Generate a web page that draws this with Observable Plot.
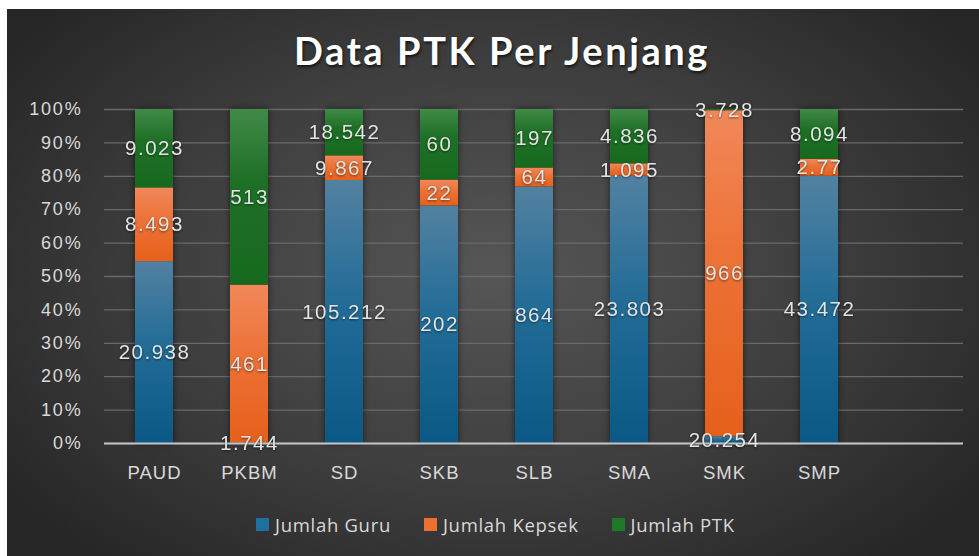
<!DOCTYPE html>
<html><head><meta charset="utf-8">
<script src="https://cdn.jsdelivr.net/npm/d3@7"></script>
<script src="https://cdn.jsdelivr.net/npm/@observablehq/plot@0.6"></script>
<style>
html,body{margin:0;padding:0;background:#fff;}
#wrap{position:relative;width:979px;height:556px;overflow:hidden;background:#fff;}
#bg{position:absolute;left:7px;top:9px;width:972px;height:547px;
  background:radial-gradient(ellipse 62% 70% at 50% 48%, #565656 0%, #3e3e3e 55%, #262626 100%);}
#title{position:absolute;left:502px;top:27px;transform:translateX(-50%);white-space:nowrap;
  font-family:"Lato",sans-serif;font-weight:700;font-size:38px;letter-spacing:2.6px;color:#fff;
  text-shadow:1px 2px 3px rgba(0,0,0,0.65);}
#chart{position:absolute;left:0;top:0;}
#chart svg text{font-family:"Liberation Sans",Arial,sans-serif;}
#chart .tick-y text{letter-spacing:1.8px;}
#chart .tick-x text{letter-spacing:1px;}
#chart .labels text{letter-spacing:1.5px;}
#chart .labels{filter:drop-shadow(0 1px 1px rgba(0,0,0,0.5));}
#chart .bars{filter:drop-shadow(0 0 3px rgba(0,0,0,0.55));}
#legend{position:absolute;top:512px;left:256px;display:flex;align-items:center;
  font-family:"Open Sans",sans-serif;font-size:18.5px;letter-spacing:0.7px;color:#d9d9d9;white-space:nowrap;}
#legend .item{display:flex;align-items:center;margin-right:33px;}
#legend .sw{width:13px;height:13px;margin-right:6px;}
</style>
</head><body>
<div id="wrap">
  <div id="bg"></div>
  <div id="title">Data PTK Per Jenjang</div>
  <div id="chart"></div>
  <div id="legend"></div>
</div>
<script>
// ---- data ----
const categories = ["PAUD", "PKBM", "SD", "SKB", "SLB", "SMA", "SMK", "SMP"];
const seriesNames = ["Jumlah Guru", "Jumlah Kepsek", "Jumlah PTK"];
const guru   = [20.938, 1.744, 105.212, 202, 864, 23.803, 20.254, 43.472];
const kepsek = [8.493, 461, 9.867, 22, 64, 1.095, 966, 2.77];
const ptk    = [9.023, 513, 18.542, 60, 197, 4.836, 3.728, 8.094];
const yTicks = [0, 0.1, 0.2, 0.3, 0.4, 0.5, 0.6, 0.7, 0.8, 0.9, 1];
const seriesColors = ["#1f6fa0", "#ec7030", "#1e7a28"];

const seriesValues = [guru, kepsek, ptk];
const table = seriesNames.flatMap((s, si) =>
  categories.map((c, ci) => ({category: c, series: s, value: seriesValues[si][ci]})));
const slots = [...categories, ""]; // empty trailing slot as in the original

const gradIds = ["gGuru", "gKepsek", "gPTK"];
const gradStops = [
  [["0%", "#5281a0"], ["45%", "#236d98"], ["100%", "#0a5885"]],
  [["0%", "#f1885a"], ["45%", "#ec7236"], ["100%", "#e6601b"]],
  [["0%", "#3f8a47"], ["40%", "#1f7027"], ["100%", "#166a1e"]]
];

const defs = () => {
  const d = d3.create("svg:defs");
  gradIds.forEach((id, i) => {
    const g = d.append("linearGradient").attr("id", id)
      .attr("x1", 0).attr("y1", 0).attr("x2", 0).attr("y2", 1);
    gradStops[i].forEach(([o, c]) => g.append("stop").attr("offset", o).attr("stop-color", c));
  });
  return d.node();
};

const chart = Plot.plot({
  width: 979, height: 490,
  marginLeft: 104, marginRight: 16, marginTop: 109, marginBottom: 47,
  style: {background: "transparent", overflow: "visible"},
  x: {domain: slots, paddingInner: 0.6, paddingOuter: 0.3, label: null},
  y: {domain: [0, 1], label: null},
  color: {domain: seriesNames, range: gradIds.map(id => `url(#${id})`)},
  marks: [
    defs,
    Plot.gridY(yTicks, {stroke: "#6a6a6a", strokeOpacity: 1, strokeWidth: 1.3}),
    Plot.barY(table, Plot.stackY({x: "category", y: "value", fill: "series",
      order: seriesNames, offset: "normalize", className: "bars"})),
    Plot.ruleY([0], {stroke: "#c4c4c4", strokeWidth: 2}),
    Plot.text(table, Plot.stackY({x: "category", y: "value", z: "series",
      order: seriesNames, offset: "normalize", text: d => String(d.value),
      fill: "#e4e4e4", fontSize: 20.5, className: "labels"})),
    Plot.axisY(yTicks, {tickSize: 0, tickPadding: 22, tickFormat: d3.format(".0%"),
      fontSize: 18, fill: "#d9d9d9", className: "tick-y"}),
    Plot.axisX({tickSize: 0, tickPadding: 22, fontSize: 18.5, fill: "#d9d9d9", className: "tick-x"})
  ]
});
document.getElementById("chart").appendChild(chart);

const legend = d3.select("#legend");
seriesNames.forEach((s, i) => {
  const it = legend.append("div").attr("class", "item");
  it.append("div").attr("class", "sw").style("background", seriesColors[i]);
  it.append("span").text(s);
});
</script>
</body></html>
